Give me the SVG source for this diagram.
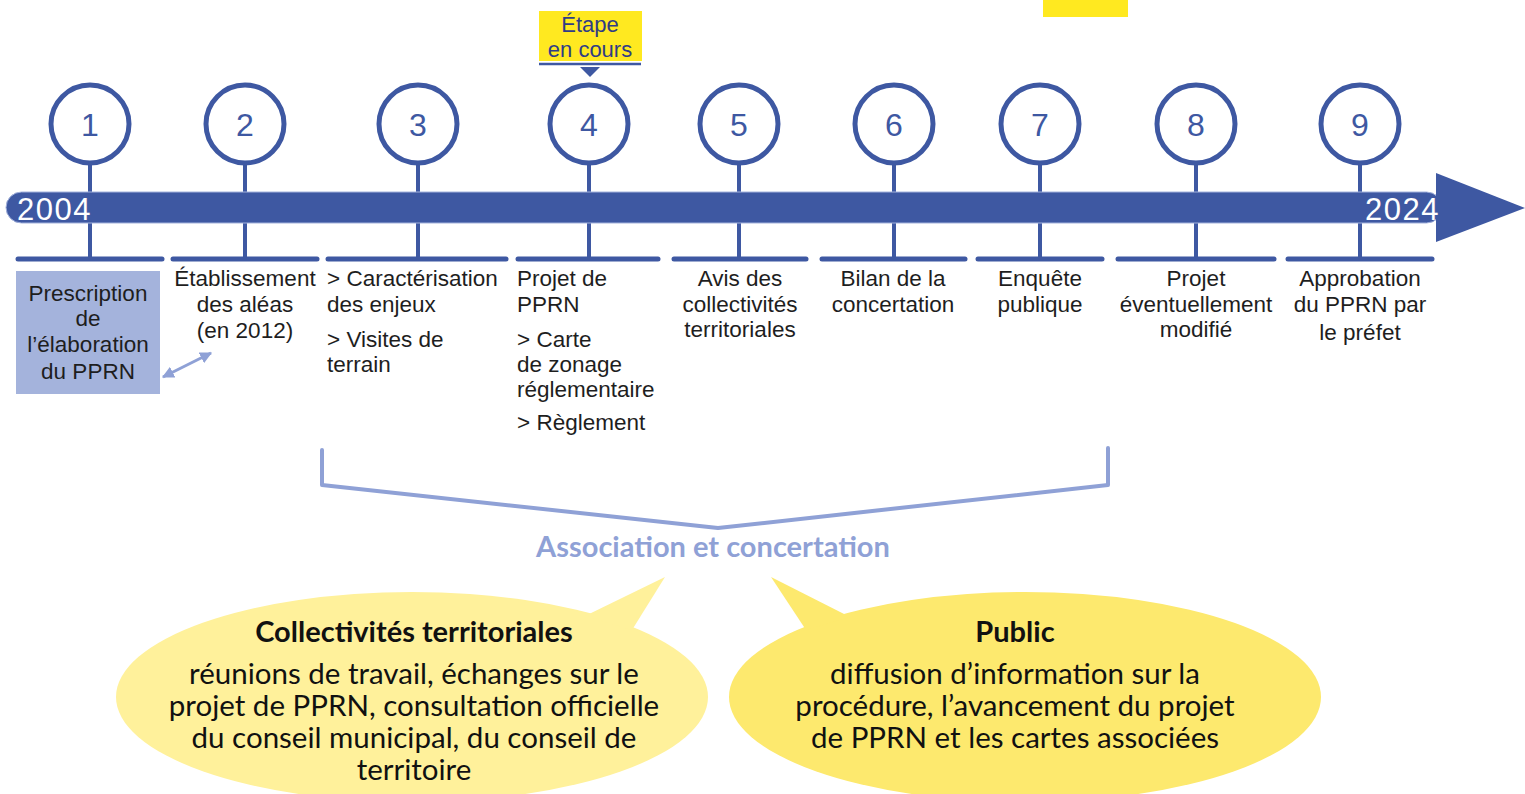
<svg xmlns="http://www.w3.org/2000/svg" width="1525" height="794" viewBox="0 0 1525 794">
<style>
.stem{stroke:#3e58a2;stroke-width:4;fill:none}
.seg{stroke:#3e58a2;stroke-width:5;stroke-linecap:round;fill:none}
.circ{fill:#fff;stroke:#3e58a2;stroke-width:5}
.num{font-family:"Liberation Sans",Arial,sans-serif;font-size:32px;fill:#3e58a2;text-anchor:middle}
.yr{font-family:"Liberation Sans",Arial,sans-serif;font-size:31px;letter-spacing:1.5px;fill:#fff}
.t{font-family:"Liberation Sans",Arial,sans-serif;font-size:22.5px;fill:#1e1e1e}
.c{text-anchor:middle}
.et{font-family:"Liberation Sans",Arial,sans-serif;font-size:22px;fill:#2f3c86;text-anchor:middle}
.bh{font-family:Lato,"Open Sans",sans-serif;font-size:29px;font-weight:bold;fill:#111;text-anchor:middle}
.bt{font-family:Lato,"Open Sans",sans-serif;font-size:29.5px;fill:#111;text-anchor:middle}
.assoc{font-family:Lato,"Open Sans",sans-serif;font-size:29px;font-weight:bold;fill:#8fa1d6;text-anchor:middle}
</style>
<defs>
<marker id="ah" viewBox="0 0 10 10" refX="9" refY="5" markerWidth="4" markerHeight="4" orient="auto-start-reverse" markerUnits="strokeWidth">
<path d="M0,0 L10,5 L0,10 z" fill="#8fa1d6"/>
</marker>
</defs>
<rect width="1525" height="794" fill="#fff"/>

<rect id="yellow-top" x="1043" y="0" width="85" height="17" fill="#ffe920"/>

<g id="connectors">
<line class="stem" x1="90" y1="164" x2="90" y2="259"/>
<line class="stem" x1="245" y1="164" x2="245" y2="259"/>
<line class="stem" x1="418" y1="164" x2="418" y2="259"/>
<line class="stem" x1="589" y1="164" x2="589" y2="259"/>
<line class="stem" x1="739" y1="164" x2="739" y2="259"/>
<line class="stem" x1="894" y1="164" x2="894" y2="259"/>
<line class="stem" x1="1040" y1="164" x2="1040" y2="259"/>
<line class="stem" x1="1196" y1="164" x2="1196" y2="259"/>
<line class="stem" x1="1360" y1="164" x2="1360" y2="259"/>
<line class="seg" x1="18" y1="259" x2="162" y2="259"/>
<line class="seg" x1="173" y1="259" x2="317" y2="259"/>
<line class="seg" x1="328" y1="259" x2="506" y2="259"/>
<line class="seg" x1="518" y1="259" x2="658" y2="259"/>
<line class="seg" x1="674" y1="259" x2="806" y2="259"/>
<line class="seg" x1="822" y1="259" x2="965" y2="259"/>
<line class="seg" x1="978" y1="259" x2="1102" y2="259"/>
<line class="seg" x1="1118" y1="259" x2="1274" y2="259"/>
<line class="seg" x1="1288" y1="259" x2="1432" y2="259"/>
<line x1="163" y1="377" x2="211" y2="353" stroke="#8fa1d6" stroke-width="3" marker-start="url(#ah)" marker-end="url(#ah)"/>
<polyline points="322,450 322,485 718,528 1108,485 1108,448" fill="none" stroke="#8fa1d6" stroke-width="4" stroke-linejoin="round" stroke-linecap="round"/>
</g>

<g id="timeline">
<rect x="6" y="192" width="1436" height="31" rx="15.5" fill="#3e58a2" stroke="#a3b2dc" stroke-width="1"/>
<polygon points="1436,173 1525,208 1436,242" fill="#3e58a2"/>
<text class="yr" x="17" y="220">2004</text>
<text class="yr" x="1365" y="220">2024</text>
</g>

<g id="etape">
<rect x="539" y="11" width="103" height="50" fill="#ffe920"/>
<text class="et" x="590" y="32">Étape</text>
<text class="et" x="590" y="57">en cours</text>
<line x1="539" y1="64" x2="641" y2="64" stroke="#3e58a2" stroke-width="2.5"/>
<polygon points="580,67 600,67 590,77" fill="#3e58a2"/>
</g>

<g id="step1"><circle class="circ" cx="90" cy="124" r="39"/><text class="num" x="90" y="136">1</text>
<rect x="16" y="271" width="144" height="123" fill="#a4b3dc"/>
<text class="t c" x="88" y="301">Prescription</text><text class="t c" x="88" y="326">de</text><text class="t c" x="88" y="352">l’élaboration</text><text class="t c" x="88" y="379">du PPRN</text></g>
<g id="step2"><circle class="circ" cx="245" cy="124" r="39"/><text class="num" x="245" y="136">2</text>
<text class="t c" x="245" y="286">Établissement</text><text class="t c" x="245" y="312">des aléas</text><text class="t c" x="245" y="338">(en 2012)</text></g>
<g id="step3"><circle class="circ" cx="418" cy="124" r="39"/><text class="num" x="418" y="136">3</text>
<text class="t" x="327" y="286">&gt; Caractérisation</text><text class="t" x="327" y="312">des enjeux</text><text class="t" x="327" y="347">&gt; Visites de</text><text class="t" x="327" y="372">terrain</text></g>
<g id="step4"><circle class="circ" cx="589" cy="124" r="39"/><text class="num" x="589" y="136">4</text>
<text class="t" x="517" y="286">Projet de</text><text class="t" x="517" y="312">PPRN</text><text class="t" x="517" y="347">&gt; Carte</text><text class="t" x="517" y="372">de zonage</text><text class="t" x="517" y="397">réglementaire</text><text class="t" x="517" y="430">&gt; Règlement</text></g>
<g id="step5"><circle class="circ" cx="739" cy="124" r="39"/><text class="num" x="739" y="136">5</text>
<text class="t c" x="740" y="286">Avis des</text><text class="t c" x="740" y="312">collectivités</text><text class="t c" x="740" y="337">territoriales</text></g>
<g id="step6"><circle class="circ" cx="894" cy="124" r="39"/><text class="num" x="894" y="136">6</text>
<text class="t c" x="893" y="286">Bilan de la</text><text class="t c" x="893" y="312">concertation</text></g>
<g id="step7"><circle class="circ" cx="1040" cy="124" r="39"/><text class="num" x="1040" y="136">7</text>
<text class="t c" x="1040" y="286">Enquête</text><text class="t c" x="1040" y="312">publique</text></g>
<g id="step8"><circle class="circ" cx="1196" cy="124" r="39"/><text class="num" x="1196" y="136">8</text>
<text class="t c" x="1196" y="286">Projet</text><text class="t c" x="1196" y="312">éventuellement</text><text class="t c" x="1196" y="337">modifié</text></g>
<g id="step9"><circle class="circ" cx="1360" cy="124" r="39"/><text class="num" x="1360" y="136">9</text>
<text class="t c" x="1360" y="286">Approbation</text><text class="t c" x="1360" y="312">du PPRN par</text><text class="t c" x="1360" y="340">le préfet</text></g>

<g id="association"><text class="assoc" x="713" y="557">Association et concertation</text></g>

<g id="bubble-collectivites">
<ellipse cx="412" cy="697" rx="296" ry="105" fill="#fff19b"/>
<polygon points="585,616 665,577 632,630" fill="#fff19b"/>
<text class="bh" x="414" y="642">Collectivités territoriales</text>
<text class="bt" x="414" y="684">réunions de travail, échanges sur le</text>
<text class="bt" x="414" y="716">projet de PPRN, consultation officielle</text>
<text class="bt" x="414" y="748">du conseil municipal, du conseil de</text>
<text class="bt" x="414" y="780">territoire</text>
</g>
<g id="bubble-public">
<ellipse cx="1025" cy="697" rx="296" ry="105" fill="#fde96e"/>
<polygon points="850,617 771,577 806,630" fill="#fde96e"/>
<text class="bh" x="1015" y="642">Public</text>
<text class="bt" x="1015" y="684">diffusion d’information sur la</text>
<text class="bt" x="1015" y="716">procédure, l’avancement du projet</text>
<text class="bt" x="1015" y="748">de PPRN et les cartes associées</text>
</g>
</svg>
